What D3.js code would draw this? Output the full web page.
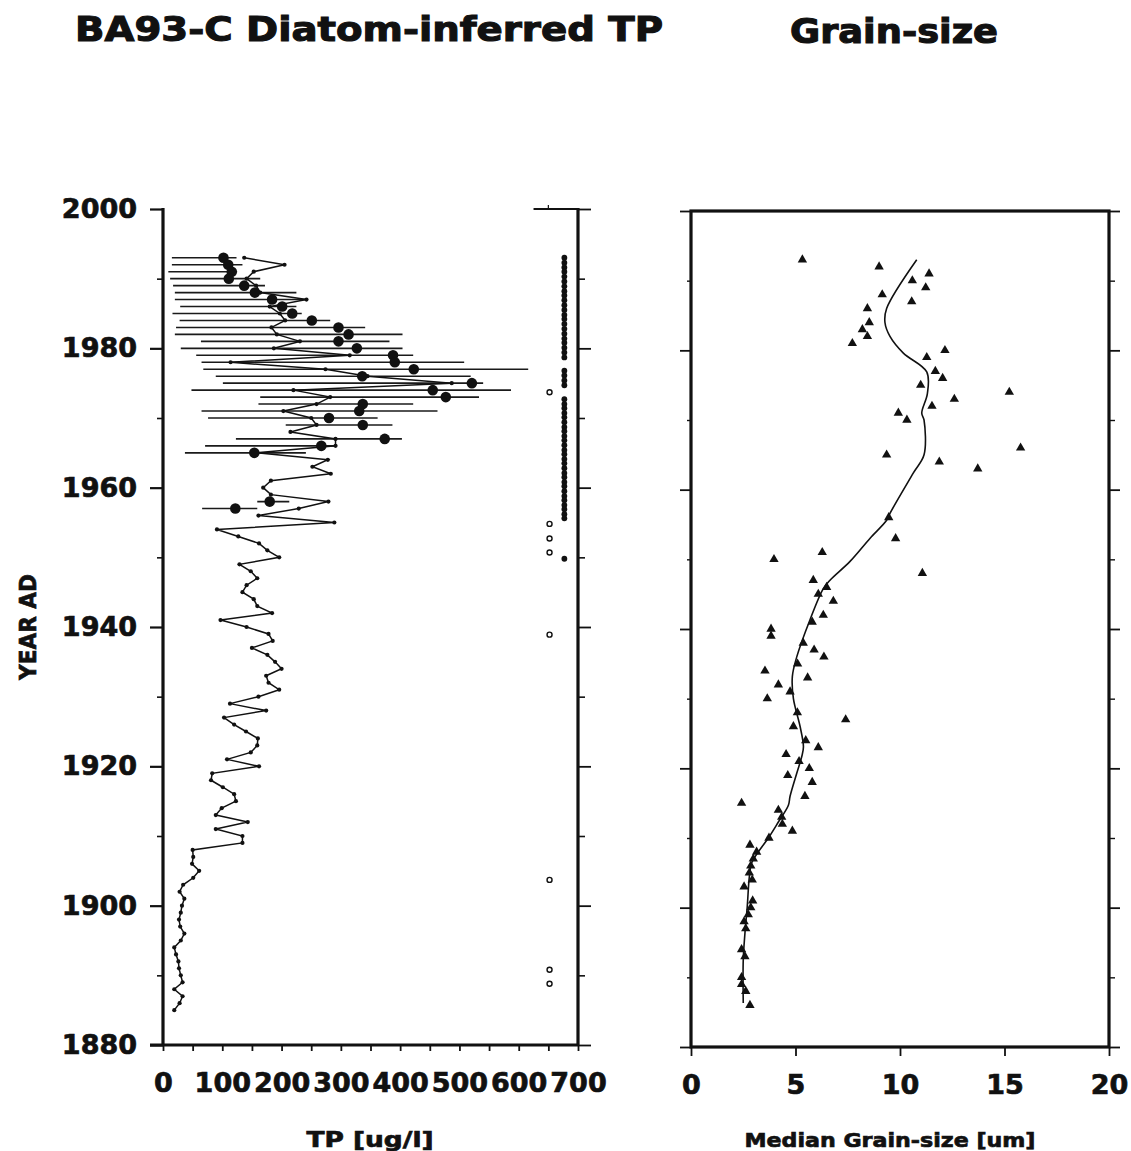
<!DOCTYPE html>
<html>
<head>
<meta charset="utf-8">
<script src="https://cdn.jsdelivr.net/npm/d3@7"></script>
<style>
  html, body { margin: 0; padding: 0; background: #fff; }
  svg { display: block; }
  text { font-family: "DejaVu Sans", sans-serif; font-weight: bold; fill: #111; stroke: #111; stroke-width: 0.7px; }
</style>
</head>
<body>
<svg id="chart" width="1131" height="1151"></svg>
<script>
// BA93-C diatom-inferred TP (left) and median grain-size (right) against year AD

// --- TP reconstruction, one sample per year (ug/l)
const tpYears = [1993,1992,1991,1990,1989,1988,1987,1986,1985,1984,1983,1982,1981,1980,1979,1978,1977,1976,1975,1974,
  1973,1972,1971,1970,1969,1968,1967,1966,1965,1964,1963,1962,1961,1960,1959,1958,1957,1956,1955,1954,
  1953,1952,1951,1950,1949,1948,1947,1946,1945,1944,1943,1942,1941,1940,1939,1938,1937,1936,1935,1934,
  1933,1932,1931,1930,1929,1928,1927,1926,1925,1924,1923,1922,1921,1920,1919,1918,1917,1916,1915,1914,
  1913,1912,1911,1910,1909,1908,1907,1906,1905,1904,1903,1902,1901,1900,1899,1898,1897,1896,1895,1894,
  1893,1892,1891,1890,1889,1888,1887,1886,1885];
const tpValues = [137,205,153,141,157,164,242,180,197,206,183,192,231,187,315,114,274,345,487,220,
  282,259,203,250,259,215,291,291,158,278,252,283,182,169,182,279,229,161,289,91,
  127,162,176,196,129,148,159,141,134,153,159,184,97,141,178,185,150,176,189,200,
  174,178,196,161,113,174,103,120,140,160,159,148,108,162,83,81,101,120,123,99,
  89,143,89,134,134,50,51,49,61,51,34,28,36,32,30,27,29,36,30,19,
  22,26,27,30,33,19,33,28,19];

// --- error ranges (lower, upper) for the recent samples
const errYears = [1993,1992,1991,1990,1989,1988,1987,1986,1985,1984,1983,1982,1981,1980,1979,1978,1977,1976,1975,1974,
  1973,1972,1971,1970,1969,1967,1966,1965,1958,1957];
const errLow  = [15,15,9,12,17,20,20,29,16,28,22,20,64,30,56,65,68,89,101,48,
  164,161,65,76,207,123,71,37,159,66];
const errHigh = [124,134,125,164,172,225,242,225,234,282,341,404,382,404,422,508,616,519,540,587,
  533,422,463,362,387,403,291,241,213,159];

// --- second estimate (large dots)
const bigYears = [1993,1992,1991,1990,1989,1988,1987,1986,1985,1984,1983,1982,1981,1980,1979,1978,1977,1976,1975,1974,
  1973,1972,1971,1970,1969,1967,1966,1965,1958,1957];
const bigValues = [102,110,116,111,137,155,184,201,218,251,296,313,296,327,388,391,423,336,521,455,
  477,337,331,280,337,374,267,154,180,122];

// --- significance column: filled and open markers (years)
const sigFilledYears = [1993.0,1992.3,1991.6,1991.0,1990.3,1989.6,1988.9,1988.2,1987.6,1986.9,1986.2,1985.5,1984.8,1984.2,
  1983.5,1982.8,1982.1,1981.4,1980.8,1980.1,1979.4,1978.7,
  1976.8,1976.1,1975.4,1974.7,
  1972.7,1972.0,1971.4,1970.7,1970.1,1969.4,1968.7,1968.1,1967.4,1966.8,1966.1,1965.4,1964.8,1964.1,
  1963.5,1962.8,1962.1,1961.5,1960.8,1960.2,1959.5,1958.8,1958.2,1957.5,1956.9,1956.2,1955.6,
  1949.8];
const sigOpenYears = [1973.7,1954.8,1952.7,1950.7,1938.9,1903.7,1890.8,1888.8];
const sigFilledTP = 677, sigOpenTP = 652;

// --- grain-size samples (um)
const gsYears = [1993,1992,1991,1990,1989,1988,1987,1986,1984,1983,1982,1981,1980,1979,1977,1976,1975,1974,1973,1972,
  1971,1970,1966,1965,1964,1963,1956,1953,1951,1950,1948,1947,1946,1945,1944,1942,1941,1940,1939,1938,
  1937,1936,1935,1934,1933,1932,1931,1930,1928,1927,1926,1924,1923,1922,1921,1920,1919,1918,1916,1915,
  1914,1913,1912,1911,1910,1909,1908,1907,1906,1905,1904,1903,1901,1900,1899,1898,1897,1894,1893,1890,
  1889,1888,1886];
const gsValues = [5.33,9.0,11.39,10.59,11.23,9.15,10.56,8.44,8.53,8.2,8.44,7.72,12.15,11.28,11.69,12.04,10.99,15.23,12.6,11.53,
  9.92,10.33,15.77,9.36,11.88,13.72,9.46,9.79,6.28,3.97,11.07,5.85,6.49,6.09,6.81,6.33,5.8,3.83,3.83,5.37,
  5.89,6.36,5.1,3.54,5.58,4.18,4.74,3.65,5.09,7.4,4.9,5.49,6.09,4.55,5.17,5.66,4.63,5.8,5.45,2.42,
  4.18,4.34,4.37,4.85,3.73,2.82,3.14,2.98,2.86,2.79,2.93,2.54,2.95,2.86,2.74,2.54,2.62,2.42,2.58,2.42,
  2.42,2.62,2.82];

// --- smoothed grain-size curve
const gsSmoothYears = [1993,1986,1984,1982,1979.6,1976.9,1973.8,1971,1970,1965,1962.4,1956.6,1955.6,1953,1949.7,1947,1945.8,
  1941.3,1936,1933.2,1930,1926,1923.1,1921.7,1919.3,1916,1914.7,1912.3,1910,1908,1906.4,1904.4,1900.1,1896.3,1892.5,1886.3];
const gsSmoothValues = [10.8,9.36,9.28,9.52,10.16,11.28,11.31,11.04,11.15,11.15,10.64,9.52,9.36,8.56,7.61,6.65,6.33,
  5.69,5.06,4.85,4.9,5.22,5.38,5.3,5.06,4.74,4.66,4.18,3.7,3.22,2.9,2.79,2.69,2.58,2.5,2.5];

const yearMajor = [1880,1900,1920,1940,1960,1980,2000];
const yearMinor = [1890,1910,1930,1950,1970,1990];
const tpTicks = [0,50,100,150,200,250,300,350,400,450,500,550,600,650,700];
const tpLabels = [0,100,200,300,400,500,600,700];
const gsTicks = [0,5,10,15,20];

const svg = d3.select('#chart');
const INK = '#111';

// ---------------- left panel: TP ----------------
const L = { left: 163, right: 578, top: 209, bottom: 1045 };
const xTP = d3.scaleLinear().domain([0, 700]).range([L.left, L.right]);
const yL = d3.scaleLinear().domain([1880, 2000]).range([L.bottom, L.top]);

const left = svg.append('g');

function styleAxis(g, w) {
  g.select('.domain').remove();
  g.selectAll('line').attr('stroke', INK).attr('stroke-width', w);
  g.selectAll('text').attr('font-size', 27).attr('fill', INK)
    .attr('font-family', '"DejaVu Sans", sans-serif').attr('font-weight', 'bold');
}

// year axis (left side)
left.append('g').attr('transform', `translate(${L.left},0)`)
  .call(d3.axisLeft(yL).tickValues(yearMajor).tickFormat(d3.format('d')).tickSize(13).tickPadding(13))
  .call(g => styleAxis(g, 2.2));
left.append('g').attr('transform', `translate(${L.left},0)`)
  .call(d3.axisLeft(yL).tickValues(yearMinor).tickFormat('').tickSize(6))
  .call(g => styleAxis(g, 1.6));
// right side ticks
left.append('g').attr('transform', `translate(${L.right},0)`)
  .call(d3.axisRight(yL).tickValues(yearMajor).tickFormat('').tickSize(13))
  .call(g => styleAxis(g, 1.8));
left.append('g').attr('transform', `translate(${L.right},0)`)
  .call(d3.axisRight(yL).tickValues(yearMinor).tickFormat('').tickSize(7))
  .call(g => styleAxis(g, 1.6));
// bottom axis
left.append('g').attr('transform', `translate(0,${L.bottom})`)
  .call(d3.axisBottom(xTP).tickValues(tpTicks).tickFormat('').tickSize(6))
  .call(g => styleAxis(g, 1.8));
left.append('g').attr('transform', `translate(0,${L.bottom})`)
  .call(d3.axisBottom(xTP).tickValues(tpLabels).tickFormat(d3.format('d')).tickSize(0).tickPadding(28))
  .call(g => styleAxis(g, 0));

// frame lines
left.append('line').attr('x1', L.left).attr('x2', L.left).attr('y1', L.top - 1).attr('y2', L.bottom)
  .attr('stroke', INK).attr('stroke-width', 3.2);
left.append('line').attr('x1', L.left - 13).attr('x2', L.right).attr('y1', L.bottom).attr('y2', L.bottom)
  .attr('stroke', INK).attr('stroke-width', 3.2);
left.append('line').attr('x1', L.right).attr('x2', L.right).attr('y1', L.top - 1).attr('y2', L.bottom)
  .attr('stroke', INK).attr('stroke-width', 3.2);
left.append('line').attr('x1', xTP(625)).attr('x2', L.right).attr('y1', L.top).attr('y2', L.top)
  .attr('stroke', INK).attr('stroke-width', 2);
left.append('line').attr('x1', xTP(650)).attr('x2', xTP(650)).attr('y1', L.top).attr('y2', L.top - 4)
  .attr('stroke', INK).attr('stroke-width', 1.2);

// error bars
const errData = errYears.map((yr, i) => ({ yr, lo: errLow[i], hi: errHigh[i] }));
left.append('g').selectAll('line').data(errData).join('line')
  .attr('x1', d => xTP(d.lo)).attr('x2', d => xTP(d.hi))
  .attr('y1', d => yL(d.yr)).attr('y2', d => yL(d.yr))
  .attr('stroke', '#1a1a1a').attr('stroke-width', 1.6);

// TP line + small dots
const tpData = tpYears.map((yr, i) => ({ yr, v: tpValues[i] }));
left.append('path').datum(tpData)
  .attr('d', d3.line().x(d => xTP(d.v)).y(d => yL(d.yr)))
  .attr('fill', 'none').attr('stroke', INK).attr('stroke-width', 1.5).attr('stroke-linejoin', 'miter');
left.append('g').selectAll('circle').data(tpData).join('circle')
  .attr('cx', d => xTP(d.v)).attr('cy', d => yL(d.yr)).attr('r', 2.1).attr('fill', INK);

// large dots
const bigData = bigYears.map((yr, i) => ({ yr, v: bigValues[i] }));
left.append('g').selectAll('circle').data(bigData).join('circle')
  .attr('cx', d => xTP(d.v)).attr('cy', d => yL(d.yr)).attr('r', 5.3).attr('fill', INK);

// significance column
left.append('g').selectAll('circle').data(sigFilledYears).join('circle')
  .attr('cx', xTP(sigFilledTP)).attr('cy', d => yL(d)).attr('r', 2.9).attr('fill', INK);
left.append('g').selectAll('circle').data(sigOpenYears).join('circle')
  .attr('cx', xTP(sigOpenTP)).attr('cy', d => yL(d)).attr('r', 2.5)
  .attr('fill', '#fff').attr('stroke', INK).attr('stroke-width', 1.4);

// ---------------- right panel: grain-size ----------------
const R = { left: 691, right: 1109, top: 211, bottom: 1047 };
const xGS = d3.scaleLinear().domain([0, 20]).range([R.left, R.right]);
const yR = d3.scaleLinear().domain([1880, 2000]).range([R.bottom, R.top]);
const right = svg.append('g');

right.append('g').attr('transform', `translate(${R.left},0)`)
  .call(d3.axisLeft(yR).tickValues(yearMajor).tickFormat('').tickSize(11))
  .call(g => styleAxis(g, 1.8));
right.append('g').attr('transform', `translate(${R.left},0)`)
  .call(d3.axisLeft(yR).tickValues(yearMinor).tickFormat('').tickSize(4))
  .call(g => styleAxis(g, 1.4));
right.append('g').attr('transform', `translate(${R.right},0)`)
  .call(d3.axisRight(yR).tickValues(yearMajor).tickFormat('').tickSize(11))
  .call(g => styleAxis(g, 1.8));
right.append('g').attr('transform', `translate(${R.right},0)`)
  .call(d3.axisRight(yR).tickValues(yearMinor).tickFormat('').tickSize(6))
  .call(g => styleAxis(g, 1.4));
right.append('g').attr('transform', `translate(0,${R.bottom})`)
  .call(d3.axisBottom(xGS).tickValues(gsTicks).tickFormat(d3.format('d')).tickSize(9).tickPadding(19))
  .call(g => styleAxis(g, 1.8));

right.append('rect').attr('x', R.left).attr('y', R.top)
  .attr('width', R.right - R.left).attr('height', R.bottom - R.top)
  .attr('fill', 'none').attr('stroke', INK).attr('stroke-width', 3.2);

// smoothed curve
const smoothData = gsSmoothYears.map((yr, i) => ({ yr, v: gsSmoothValues[i] }));
right.append('path').datum(smoothData)
  .attr('d', d3.line().x(d => xGS(d.v)).y(d => yR(d.yr)).curve(d3.curveCatmullRom.alpha(0.5)))
  .attr('fill', 'none').attr('stroke', INK).attr('stroke-width', 1.6);

// triangles
const gsData = gsYears.map((yr, i) => ({ yr, v: gsValues[i] }));
const tri = d3.symbol().type(d3.symbolTriangle).size(38);
right.append('g').selectAll('path').data(gsData).join('path')
  .attr('d', tri).attr('transform', d => `translate(${xGS(d.v)},${yR(d.yr)})`)
  .attr('fill', INK);

// ---------------- titles and axis labels ----------------
svg.append('text').attr('x', 75).attr('y', 41).attr('font-size', 33).style('stroke-width', '1.1px')
  .attr('textLength', 588).attr('lengthAdjust', 'spacingAndGlyphs')
  .text('BA93-C Diatom-inferred TP');
svg.append('text').attr('x', 790).attr('y', 43).attr('font-size', 33).style('stroke-width', '1.1px')
  .attr('textLength', 208).attr('lengthAdjust', 'spacingAndGlyphs')
  .text('Grain-size');
svg.append('text').attr('transform', 'translate(36,627) rotate(-90)')
  .attr('text-anchor', 'middle').attr('font-size', 23)
  .attr('textLength', 106).attr('lengthAdjust', 'spacingAndGlyphs')
  .text('YEAR AD');
svg.append('text').attr('x', 370).attr('y', 1147).attr('text-anchor', 'middle').attr('font-size', 21)
  .attr('textLength', 127).attr('lengthAdjust', 'spacingAndGlyphs')
  .text('TP [ug/l]');
svg.append('text').attr('x', 890).attr('y', 1147).attr('text-anchor', 'middle').attr('font-size', 20)
  .attr('textLength', 291).attr('lengthAdjust', 'spacingAndGlyphs')
  .text('Median Grain-size [um]');
</script>
</body>
</html>
